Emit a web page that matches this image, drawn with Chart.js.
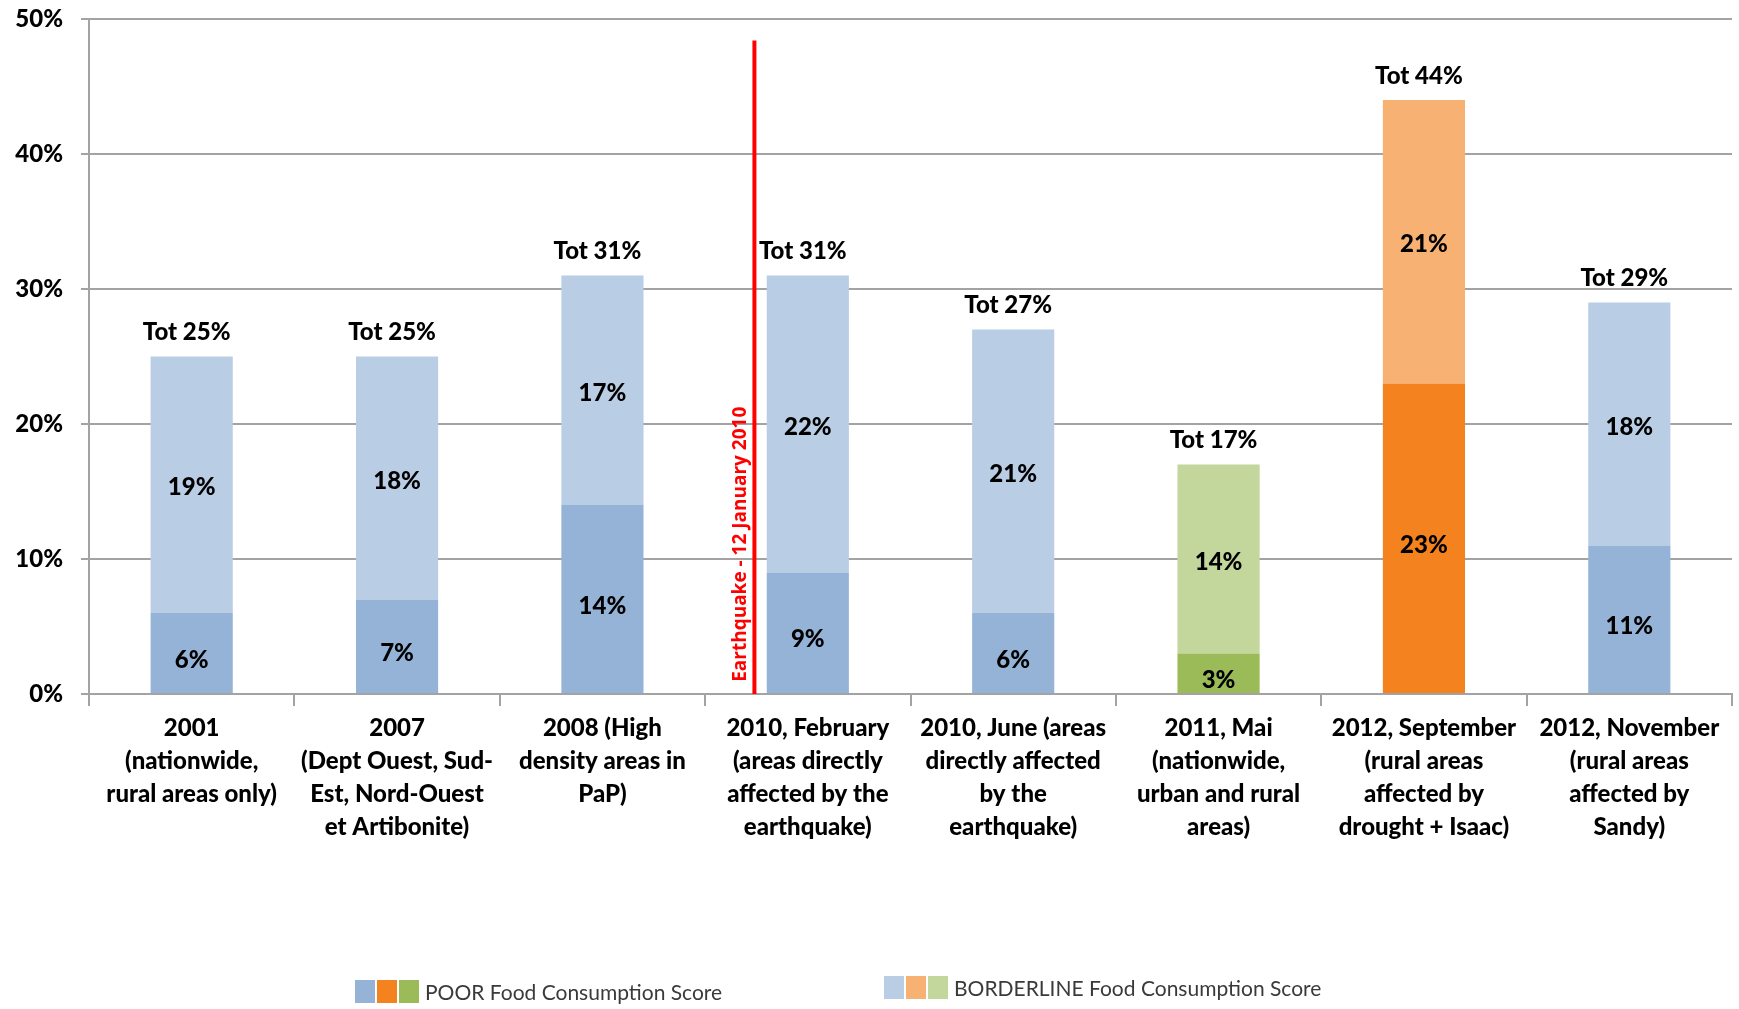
<!DOCTYPE html>
<html>
<head>
<meta charset="utf-8">
<script src="https://cdn.jsdelivr.net/npm/chart.js@4.4.1/dist/chart.umd.min.js"></script>
<style>
  html, body { margin: 0; padding: 0; background: #fff; }
  #wrap { width: 1739px; height: 1009px; }
</style>
</head>
<body>
<div id="wrap"><canvas id="myChart"></canvas></div>
<script>
const categories = [
    ["2001", "(nationwide,", "rural areas only)"],
    ["2007", "(Dept Ouest, Sud-", "Est, Nord-Ouest", "et Artibonite)"],
    ["2008 (High", "density areas in", "PaP)"],
    ["2010, February", "(areas directly", "affected by the", "earthquake)"],
    ["2010, June (areas", "directly affected", "by the", "earthquake)"],
    ["2011, Mai", "(nationwide,", "urban and rural", "areas)"],
    ["2012, September", "(rural areas", "affected by", "drought + Isaac)"],
    ["2012, November", "(rural areas", "affected by", "Sandy)"]
];
const poorValues = [6, 7, 14, 9, 6, 3, 23, 11];
const borderlineValues = [19, 18, 17, 22, 21, 14, 21, 18];
const yTicks = [0, 10, 20, 30, 40, 50];

// couleurs par barre (bleu, vert pour 2011, orange pour 2012 septembre)
const poorColors = ['#95B3D7', '#95B3D7', '#95B3D7', '#95B3D7', '#95B3D7', '#9BBB59', '#F4821F', '#95B3D7'];
const borderlineColors = ['#B9CDE5', '#B9CDE5', '#B9CDE5', '#B9CDE5', '#B9CDE5', '#C3D69B', '#F7B273', '#B9CDE5'];

const legendLabels = ["POOR Food Consumption Score", "BORDERLINE Food Consumption Score"];
const legendPoorSwatches = ['#95B3D7', '#F4821F', '#9BBB59'];
const legendBorderSwatches = ['#B9CDE5', '#F7B273', '#C3D69B'];

// ligne du séisme
const quakeLabel = "Earthquake - 12 January 2010";
const quakePosition = 2.74;   // position sur l'axe des catégories
const quakeTop = 48.4;        // haut de la ligne (%)
const quakeTextStart = 0.9;   // début du texte (%)

const FONT = "Lato, 'Open Sans', sans-serif";
const GRID = '#A3A3A3';

const labelsPlugin = {
    id: 'labelsPlugin',
    afterDatasetsDraw(chart) {
        const ctx = chart.ctx;
        ctx.save();
        ctx.fillStyle = '#000';
        ctx.font = "900 24px " + FONT;
        ctx.textAlign = 'center';
        ctx.textBaseline = 'middle';
        chart.data.datasets.forEach((ds, i) => {
            const meta = chart.getDatasetMeta(i);
            const shift = i === 0 ? 7 : 3;
            meta.data.forEach((bar, j) => {
                const mid = (bar.y + bar.base) / 2;
                ctx.fillText(ds.data[j] + '%', bar.x, mid + shift);
            });
        });
        // totaux au-dessus des barres
        const top = chart.getDatasetMeta(1);
        top.data.forEach((bar, j) => {
            const tot = poorValues[j] + borderlineValues[j];
            ctx.fillText('Tot ' + tot + '%', bar.x - 5, bar.y - 24);
        });
        ctx.restore();
    }
};

const quakePlugin = {
    id: 'quakePlugin',
    afterDatasetsDraw(chart) {
        const ctx = chart.ctx;
        const x = chart.scales.x.getPixelForValue(quakePosition);
        const yTop = chart.scales.y.getPixelForValue(quakeTop);
        const yBot = chart.scales.y.getPixelForValue(0);
        ctx.save();
        ctx.strokeStyle = '#FF0000';
        ctx.lineWidth = 4;
        ctx.beginPath();
        ctx.moveTo(x, yTop);
        ctx.lineTo(x, yBot);
        ctx.stroke();
        ctx.translate(x - 14, chart.scales.y.getPixelForValue(quakeTextStart));
        ctx.rotate(-Math.PI / 2);
        ctx.fillStyle = '#FF0000';
        ctx.font = "bold 19px 'Open Sans', sans-serif";
        ctx.textAlign = 'left';
        ctx.textBaseline = 'middle';
        ctx.fillText(quakeLabel, 0, 0);
        ctx.restore();
    }
};

const legendPlugin = {
    id: 'legendPlugin',
    afterDraw(chart) {
        const ctx = chart.ctx;
        const items = [
            { x: 355, y: 980, colors: legendPoorSwatches, text: legendLabels[0] },
            { x: 884, y: 976, colors: legendBorderSwatches, text: legendLabels[1] }
        ];
        ctx.save();
        items.forEach(it => {
            it.colors.forEach((c, k) => {
                ctx.fillStyle = c;
                ctx.fillRect(it.x + k * 22, it.y, 20, 23);
            });
            ctx.fillStyle = '#3A3A3A';
            ctx.font = "21px " + FONT;
            ctx.textAlign = 'left';
            ctx.textBaseline = 'middle';
            ctx.fillText(it.text, it.x + 70, it.y + 13);
        });
        ctx.restore();
    }
};

const $grafica = document.querySelector("#myChart");

new Chart($grafica, {
    type: 'bar',
    data: {
        labels: categories,
        datasets: [
            {
                label: legendLabels[0],
                data: poorValues,
                backgroundColor: poorColors,
                borderWidth: 0,
                barPercentage: 0.4,
                categoryPercentage: 1.0
            },
            {
                label: legendLabels[1],
                data: borderlineValues,
                backgroundColor: borderlineColors,
                borderWidth: 0,
                barPercentage: 0.4,
                categoryPercentage: 1.0
            }
        ]
    },
    options: {
        responsive: true,
        maintainAspectRatio: false,
        animation: false,
        layout: { padding: { top: 19, right: 7, left: 0, bottom: 0 } },
        plugins: {
            legend: { display: false },
            tooltip: { enabled: false }
        },
        scales: {
            x: {
                stacked: true,
                grid: { drawOnChartArea: false, color: GRID, lineWidth: 2, tickLength: 12 },
                border: { color: GRID, width: 2 },
                ticks: {
                    color: '#000',
                    font: { family: FONT, size: 24, weight: '900', lineHeight: '33px' },
                    padding: 6,
                    maxRotation: 0,
                    autoSkip: false
                },
                afterFit(scale) { scale.height = 315; }
            },
            y: {
                stacked: true,
                min: 0,
                max: 50,
                afterBuildTicks(scale) { scale.ticks = yTicks.map(v => ({ value: v })); },
                grid: { color: GRID, lineWidth: 2, tickLength: 8 },
                border: { color: GRID, width: 2 },
                ticks: {
                    color: '#000',
                    font: { family: FONT, size: 24, weight: '900' },
                    padding: 18,
                    callback: v => v + '%'
                },
                afterFit(scale) {
                    scale.width = 89;
                    scale.paddingTop = 0;
                    scale.paddingBottom = 0;
                }
            }
        }
    },
    plugins: [labelsPlugin, quakePlugin, legendPlugin]
});
</script>
</body>
</html>
